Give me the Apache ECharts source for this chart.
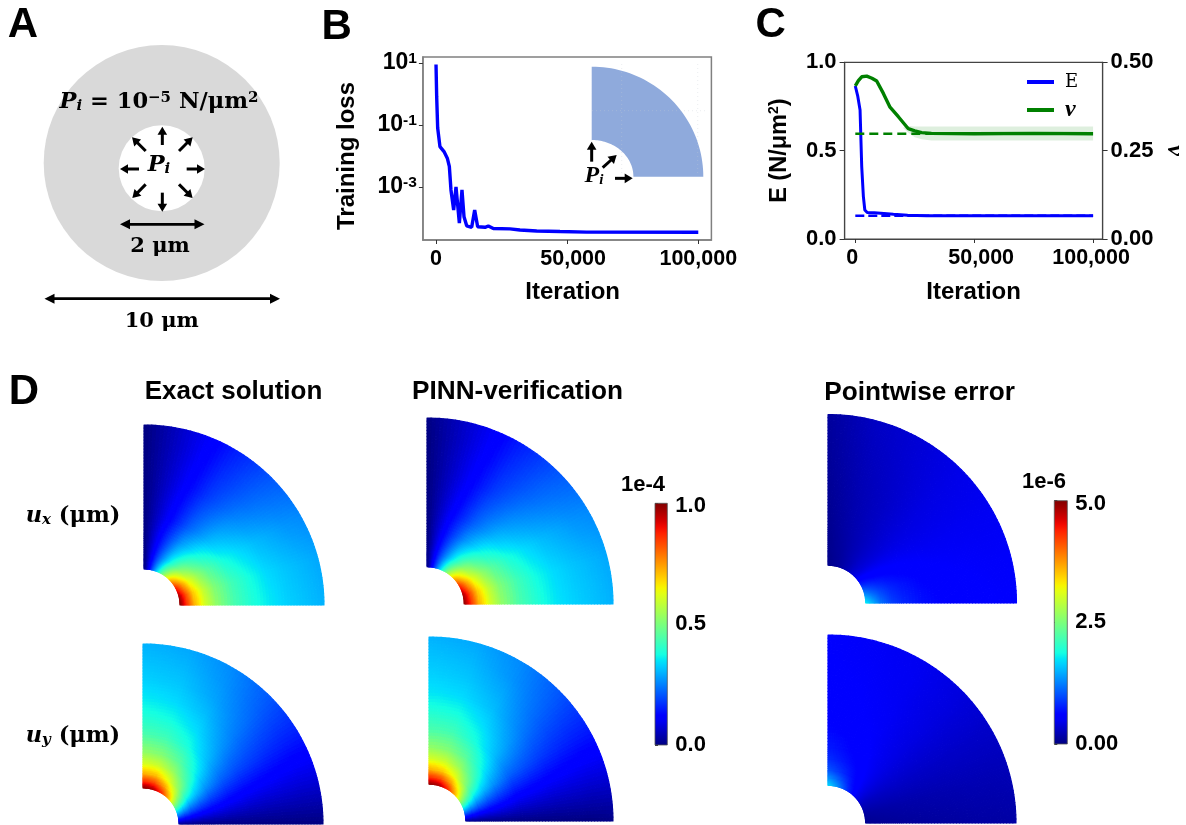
<!DOCTYPE html>
<html><head><meta charset="utf-8">
<style>html,body{margin:0;padding:0;background:#fff}#c{width:1186px;height:825px}</style>
<script src="https://cdn.jsdelivr.net/npm/echarts@6/dist/echarts.min.js"></script>
</head><body><div id="c"></div>
<script>
// ---------- panel B ----------
const lossIter=[0,250,635,1500,3050,4300,5080,5700,6730,7620,8900,9900,10670,11700,13600,14740,15880,18700,19950,21850,28200,32000,38400,47300,57400,100000];
const lossVal=[8.9,0.83,0.08,0.02,0.0138,0.0085,0.0046,8e-4,1.8e-4,1e-3,6.8e-5,8e-4,1.1e-4,5.6e-5,5e-5,1.8e-4,5.2e-5,5e-5,5.5e-5,4.6e-5,4.45e-5,4.1e-5,3.8e-5,3.65e-5,3.5e-5,3.45e-5];
const lossTicks=[1e-3,1e-1,10];
const iterTicks=[0,50000,100000];
// ---------- panel C ----------
const eIter=[0,1000,2000,2700,3400,4000,5000,8000,12000,16000,22000,30000,50000,100000];
const eVal=[0.866,0.81,0.73,0.41,0.24,0.164,0.15,0.148,0.145,0.14,0.134,0.132,0.132,0.132];
const nuIter=[0,1300,2700,4800,7000,9000,11800,14600,18100,22300,25000,27900,32000,50000,75000,100000];
const nuVal=[0.433,0.448,0.459,0.461,0.455,0.447,0.412,0.373,0.346,0.312,0.306,0.301,0.299,0.298,0.299,0.298];
const bandIter=[20000,22300,25000,27900,32000,50000,75000,100000];
const bandLow=[0.315,0.301,0.288,0.282,0.279,0.279,0.279,0.279];
const bandHigh=[0.315,0.320,0.318,0.318,0.318,0.318,0.318,0.318];
const trueE=0.132, trueNu=0.298, trueEnds=[0,100000];
// ---------- panel D : samples on rings (um) x angles (deg) ----------
const rings=[1,1.2,1.4,1.7,2,2.5,3,3.5,4,4.5,5];
const angles=[0,15,30,45,60,75,90];
const exactUx=[[1.00,.86,.73,.61,.53,.44,.39,.355,.33,.315,.30],[.97,.83,.70,.59,.51,.43,.38,.34,.32,.305,.29],[.87,.74,.63,.53,.46,.38,.34,.31,.29,.27,.26],[.71,.61,.51,.43,.37,.31,.28,.25,.23,.22,.21],[.50,.43,.36,.31,.27,.22,.20,.18,.17,.16,.15],[.26,.22,.19,.16,.14,.11,.10,.09,.085,.08,.08],[0,0,0,0,0,0,0,0,0,0,0]];
const pinnUx=[[.99,.86,.73,.61,.53,.44,.39,.35,.33,.315,.30],[.97,.83,.70,.59,.51,.43,.375,.34,.32,.305,.29],[.87,.74,.63,.53,.46,.385,.34,.31,.29,.27,.26],[.71,.61,.52,.43,.37,.31,.275,.25,.23,.22,.21],[.50,.43,.36,.31,.265,.22,.20,.18,.17,.16,.15],[.26,.22,.19,.16,.14,.115,.10,.09,.085,.08,.08],[.005,.005,.005,0,0,0,0,0,0,0,.005]];
const errUx=[[1.85,1.50,1.20,.95,.82,.70,.63,.58,.57,.55,.55],[1.30,1.10,.95,.80,.72,.63,.58,.55,.54,.53,.53],[.80,.72,.65,.60,.56,.52,.50,.50,.50,.50,.50],[.45,.42,.41,.40,.40,.41,.42,.43,.44,.45,.46],[.25,.25,.26,.27,.28,.30,.31,.33,.35,.37,.38],[.12,.13,.14,.16,.18,.20,.22,.24,.26,.28,.30],[.05,.05,.06,.06,.07,.08,.09,.10,.11,.12,.13]];
const exactUy=[[0,0,0,0,0,0,0,0,0,0,0],[.26,.22,.19,.16,.14,.115,.10,.09,.085,.08,.08],[.50,.43,.36,.31,.265,.22,.195,.18,.165,.155,.15],[.71,.61,.52,.43,.37,.31,.275,.25,.235,.22,.21],[.87,.74,.63,.53,.46,.38,.34,.31,.285,.27,.26],[.97,.83,.71,.59,.51,.425,.375,.34,.32,.305,.29],[1.00,.86,.73,.61,.53,.44,.39,.355,.33,.315,.30]];
const pinnUy=[[.005,.005,0,0,0,0,0,0,0,0,.005],[.26,.22,.19,.16,.14,.11,.10,.09,.085,.08,.08],[.50,.43,.36,.31,.27,.22,.20,.18,.165,.155,.15],[.71,.61,.51,.43,.37,.31,.28,.25,.23,.22,.21],[.87,.74,.63,.53,.46,.38,.34,.31,.29,.27,.26],[.97,.83,.70,.59,.51,.43,.38,.34,.32,.305,.29],[.99,.86,.73,.61,.53,.44,.39,.35,.33,.315,.30]];
const errUy=[[.07,.08,.09,.10,.11,.12,.13,.14,.15,.15,.16],[.14,.15,.16,.17,.18,.19,.20,.21,.22,.22,.23],[.28,.28,.29,.30,.31,.31,.31,.31,.31,.31,.31],[.50,.48,.47,.46,.45,.44,.43,.43,.42,.42,.41],[.85,.72,.65,.60,.56,.53,.52,.51,.50,.50,.49],[1.30,1.05,.85,.72,.65,.60,.56,.55,.54,.53,.52],[1.70,1.35,1.05,.85,.75,.65,.60,.57,.56,.55,.55]];
const barTicksU=[0,0.5,1.0], barLabelsU=['0.0','0.5','1.0'];
const barTicksE=[0,2.5,5.0], barLabelsE=['0.00','2.5','5.0'];

// ---------- layout & style ----------
const SANS='"Liberation Sans",Arial,sans-serif', SERIF='"DejaVu Serif",serif', LSERIF='"Liberation Serif",serif';
const fieldBoxes=[
 {t:exactUx,max:1,left:144,bottom:605,R:180},
 {t:pinnUx,max:1,left:427,bottom:604,R:186},
 {t:errUx,max:5,left:828,bottom:603,R:188.5},
 {t:exactUy,max:1,left:143,bottom:824,R:180},
 {t:pinnUy,max:1,left:429,bottom:821,R:184},
 {t:errUy,max:5,left:828,bottom:823,R:188}];
const jetR=[[0,0],[.35,0],[.66,1],[.89,1],[1,.5]], jetG=[[0,0],[.125,0],[.375,1],[.64,1],[.91,0],[1,0]], jetB=[[0,.5],[.11,1],[.34,1],[.65,0],[1,0]];
function seg(s,v){for(let i=1;i<s.length;i++){if(v<=s[i][0]){const a=s[i-1],b=s[i];return a[1]+(b[1]-a[1])*(v-a[0])/(b[0]-a[0]);}}return s[s.length-1][1];}
function jet(v){v=Math.max(0,Math.min(1,v));return 'rgb('+Math.round(255*seg(jetR,v))+','+Math.round(255*seg(jetG,v))+','+Math.round(255*seg(jetB,v))+')';}

function fieldSeries(box,xi,yi){
  const cells=[];
  for(let a=0;a<angles.length-1;a++)for(let r=0;r<rings.length-1;r++)cells.push([a,r,box.t[a][r]]);
  const SA=12,SR=6;
  return {type:'custom',xAxisIndex:xi,yAxisIndex:yi,silent:true,clip:false,data:cells,
    encode:{x:0,y:1},
    renderItem:function(p,api){
      const a=api.value(0),r=api.value(1),kids=[];
      const t=box.t,a0=angles[a],a1=angles[a+1],r0=rings[r],r1=rings[r+1];
      const pt=(u,w)=>{const th=(a0+(a1-a0)*u)*Math.PI/180,R=r0+(r1-r0)*w;return api.coord([R*Math.cos(th),R*Math.sin(th)]);};
      for(let i=0;i<SA;i++)for(let j=0;j<SR;j++){
        const u=(i+.5)/SA,w=(j+.5)/SR;
        const v=(1-u)*((1-w)*t[a][r]+w*t[a][r+1])+u*((1-w)*t[a+1][r]+w*t[a+1][r+1]);
        const c=jet(v/box.max);
        kids.push({type:'polygon',shape:{points:[pt(i/SA,j/SR),pt((i+1)/SA,j/SR),pt((i+1)/SA,(j+1)/SR),pt(i/SA,(j+1)/SR)]},style:{fill:c,stroke:c,lineWidth:1.1,lineJoin:'round'}});
      }
      return {type:'group',children:kids};
    }};
}
function barSeries(xi,yi,max){
  const stops=[];for(let i=0;i<=40;i++)stops.push({offset:1-i/40,color:jet(i/40)});
  return {type:'custom',xAxisIndex:xi,yAxisIndex:yi,silent:true,clip:false,data:[[0,0,max]],
    encode:{x:0,y:[1,2]},
    renderItem:function(p,api){
      const a=api.coord([0,max]),b=api.coord([1,0]);
      return {type:'rect',shape:{x:a[0],y:a[1],width:b[0]-a[0],height:b[1]-a[1]},
        style:{fill:new echarts.graphic.LinearGradient(0,0,0,1,stops),stroke:'#555',lineWidth:.8}};
    }};
}
function arrowEls(x1,y1,x2,y2,head,hw,lw,both){
  const L0=Math.hypot(x2-x1,y2-y1),dx=(x2-x1)/L0,dy=(y2-y1)/L0;
  const els=[{type:'line',shape:{x1:both?x1+dx*head*.7:x1,y1:both?y1+dy*head*.7:y1,x2:x2-dx*head*.7,y2:y2-dy*head*.7},style:{stroke:'#000',lineWidth:lw}}];
  const mk=(xa,ya,xb,yb)=>{const L=Math.hypot(xb-xa,yb-ya),ux=(xb-xa)/L,uy=(yb-ya)/L;
    els.push({type:'polygon',shape:{points:[[xb,yb],[xb-ux*head-uy*hw,yb-uy*head+ux*hw],[xb-ux*head+uy*hw,yb-uy*head-ux*hw]]},style:{fill:'#000'}});};
  mk(x1,y1,x2,y2); if(both)mk(x2,y2,x1,y1);
  return els;
}
function txt(text,x,y,size,opt){
  opt=opt||{};
  return {type:'text',z:20,style:{text,x,y,fill:'#000',align:opt.align||'center',verticalAlign:'middle',
    fontFamily:opt.family||SANS,fontWeight:'bold',fontSize:size,fontStyle:opt.italic?'italic':'normal',rich:opt.rich}};
}
function annulus(cx,cy,rx,ry,irx,iry){
  const pts=[];
  for(let d=0;d<=90;d+=2){const t=d*Math.PI/180;pts.push([cx+rx*Math.cos(t),cy-ry*Math.sin(t)]);}
  for(let d=90;d>=0;d-=2){const t=d*Math.PI/180;pts.push([cx+irx*Math.cos(t),cy-iry*Math.sin(t)]);}
  return pts;
}
const g=[];
g.push(txt('A',23,25,42),txt('B',336.7,27,42),txt('C',770.7,25,42),txt('D',24,392,42));
// panel A
g.push({type:'circle',shape:{cx:161.7,cy:163,r:118},style:{fill:'#d9d9d9'}});
g.push({type:'circle',shape:{cx:161.7,cy:168.2,r:43},style:{fill:'#fff'}});
[[487,435,487,380],[537,453,578,412],[560,507,615,507],[537,553,578,594],[487,578,487,635],[437,553,397,594],[417,507,360,507],[437,453,396,412]]
 .forEach(a=>g.push(...arrowEls(a[0]/3,a[1]/3,a[2]/3,a[3]/3,8,4.8,3)));
g.push(...arrowEls(120,224.3,204.5,224.3,10,5,2.7,true));
g.push(...arrowEls(44.5,298.7,280,298.7,10,5,2.7,true));
const mathRich={p:{fontFamily:SERIF,fontWeight:'bold',fontStyle:'italic',fontSize:22.5},
 i:{fontFamily:SERIF,fontWeight:'bold',fontStyle:'italic',fontSize:15,verticalAlign:'bottom',padding:[8,0,0,0]},
 t:{fontFamily:SERIF,fontWeight:'bold',fontSize:22.5},
 s:{fontFamily:SERIF,fontWeight:'bold',fontSize:15,verticalAlign:'top',padding:[0,0,8,0]}};
g.push(txt('{p|P}{i|i}{t| = 10}{s|−5}{t| N/μm}{s|2}',159,102,22,{rich:mathRich}));
g.push(txt('{p|P}{i|i}',159,165,22,{rich:mathRich}));
g.push(txt('2 μm',160,247,21,{family:SERIF}));
g.push(txt('10 μm',161.7,321.7,21,{family:SERIF}));
// panel B inset
g.push({type:'polygon',z:5,shape:{points:annulus(591.7,176.7,111.6,110,41.7,36.7)},style:{fill:'#8faadc'}});
[[621.7,64,621.7,176],[697.7,64,697.7,176],[592,110.7,705,110.7]].forEach(l=>g.push({type:'line',z:6,shape:{x1:l[0],y1:l[1],x2:l[2],y2:l[3]},style:{stroke:'rgba(200,205,215,.35)',lineWidth:1,lineDash:[1,3]}}));
[[815,485,815,425],[848,503,890,465],[885,535,938,535]].forEach(a=>{
  arrowEls(320+a[0]/3,a[1]/3,320+a[2]/3,a[3]/3,8,4.8,3).forEach(e=>{e.z=7;g.push(e);});});
g.push(txt('{p|P}{i|i}',594,176,20,{rich:{p:{fontFamily:LSERIF,fontWeight:'bold',fontStyle:'italic',fontSize:24},i:{fontFamily:LSERIF,fontWeight:'bold',fontStyle:'italic',fontSize:15,verticalAlign:'bottom',padding:[8,0,0,0]}}}));
// panel D text
g.push(txt('Exact solution',233.5,392,26),txt('PINN-verification',517.5,392,26.2),txt('Pointwise error',919.5,393,26.2));
const uRich={u:{fontFamily:SERIF,fontWeight:'bold',fontStyle:'italic',fontSize:22.5},
 x:{fontFamily:SERIF,fontWeight:'bold',fontStyle:'italic',fontSize:15,verticalAlign:'bottom',padding:[8,0,0,0]},
 t:{fontFamily:SERIF,fontWeight:'bold',fontSize:22.5}};
g.push(txt('{u|u}{x|x}{t| (μm)}',73,516,22,{rich:uRich}));
g.push(txt('{u|u}{x|y}{t| (μm)}',73,736,22,{rich:uRich}));
g.push(txt('1e-4',643,485,22),txt('1e-6',1044,482,22));

const lbl={fontFamily:SANS,fontWeight:'bold',fontSize:21.5,color:'#000'};
const ylbl=Object.assign({},lbl,{fontSize:22});
const nameTS={fontFamily:SANS,fontWeight:'bold',fontSize:24,color:'#000'};
const iterRichB={z:lbl,m:Object.assign({},lbl,{padding:[0,0,0,12]}),h:lbl};
const iterRichC={z:Object.assign({},lbl,{padding:[0,6,0,0]}),m:Object.assign({},lbl,{padding:[0,0,0,14]}),h:Object.assign({},lbl,{padding:[0,4,0,0]})};
const iterFmt=v=>(v===0?'{z|':v===50000?'{m|':'{h|')+v.toLocaleString('en-US')+'}';

const grids=[
 {left:422.9,top:57,width:288.5,height:183,show:true,borderColor:'#808080',borderWidth:1.5,outerBoundsMode:'none'},
 {left:844.6,top:62.3,width:258,height:176.7,show:true,borderColor:'#444',borderWidth:1.2,outerBoundsMode:'none'}];
const xAxes=[
 {gridIndex:0,type:'value',min:-5000,max:105000,splitLine:{show:false},axisLine:{onZero:false,lineStyle:{color:'#808080',width:1.5}},
  axisTick:{length:4,lineStyle:{color:'#333'},customValues:iterTicks},axisLabel:Object.assign({},lbl,{margin:8,customValues:iterTicks,formatter:iterFmt,rich:iterRichB}),
  name:'Iteration',nameLocation:'middle',nameGap:40,nameTextStyle:Object.assign({},nameTS,{padding:[0,0,0,11]})},
 {gridIndex:1,type:'value',min:-4500,max:104000,splitLine:{show:false},axisLine:{onZero:false,lineStyle:{color:'#444',width:1.2}},
  axisTick:{length:4,lineStyle:{color:'#333'},customValues:iterTicks},axisLabel:Object.assign({},lbl,{margin:8,customValues:iterTicks,formatter:iterFmt,rich:iterRichC}),
  name:'Iteration',nameLocation:'middle',nameGap:41,nameTextStyle:nameTS}];
const supRich={sup:{fontFamily:SANS,fontWeight:'bold',fontSize:15.5,verticalAlign:'top',padding:[0,0,8,0]},b:Object.assign({},lbl,{fontSize:23})};
const yAxes=[
 {gridIndex:0,type:'log',min:1.95e-5,max:15.5,splitLine:{show:false},axisLine:{onZero:false,lineStyle:{color:'#808080',width:1.5}},minorTick:{show:false},
  axisTick:{length:4,lineStyle:{color:'#333'},customValues:lossTicks},
  axisLabel:{margin:6,customValues:lossTicks,formatter:v=>'{b|10}{sup|'+Math.round(Math.log10(v))+'}',rich:supRich,fontSize:21,color:'#000'},
  name:'Training loss',nameLocation:'middle',nameGap:64,nameRotate:90,nameTextStyle:Object.assign({},nameTS,{padding:[0,15,0,0]})},
 {gridIndex:1,type:'value',min:0,max:1,interval:.5,splitLine:{show:false},axisLine:{onZero:false,lineStyle:{color:'#444',width:1.2}},
  axisTick:{length:5,lineStyle:{color:'#333'}},axisLabel:Object.assign({},ylbl,{margin:8,formatter:v=>v.toFixed(1)}),
  name:'E (N/μm{sup|2})',nameLocation:'middle',nameGap:53,nameRotate:90,
  nameTextStyle:Object.assign({},nameTS,{fontSize:23.5,rich:{sup:{fontFamily:SANS,fontWeight:'bold',fontSize:14,verticalAlign:'top',padding:[0,0,7,0]}}})},
 {gridIndex:1,type:'value',position:'right',min:0,max:.5,interval:.25,splitLine:{show:false},axisLine:{show:true,onZero:false,lineStyle:{color:'#444',width:1.2}},
  axisTick:{length:5,lineStyle:{color:'#333'}},axisLabel:Object.assign({},ylbl,{margin:8,formatter:v=>v.toFixed(2)}),
  name:'ν',nameLocation:'middle',nameGap:60,nameRotate:-90,nameTextStyle:{fontFamily:LSERIF,fontWeight:'bold',fontStyle:'italic',fontSize:24,color:'#000'}}];
const zip=(a,b)=>a.map((x,i)=>[x,b[i]]);
const series=[
 {type:'line',name:'loss',xAxisIndex:0,yAxisIndex:0,data:zip(lossIter,lossVal),showSymbol:false,lineStyle:{color:'#0000ff',width:3.4},itemStyle:{color:'#0000ff'},z:3},
 {type:'custom',name:'band',xAxisIndex:1,yAxisIndex:2,silent:true,data:[[0,0]],encode:{x:0,y:1},z:1,
  renderItem:function(p,api){
    const pts=zip(bandIter,bandHigh).concat(zip(bandIter,bandLow).reverse()).map(d=>api.coord(d));
    return {type:'polygon',shape:{points:pts},style:{fill:'rgba(0,128,0,.13)'}};
  }},
 {type:'line',name:'Etrue',xAxisIndex:1,yAxisIndex:1,data:trueEnds.map(x=>[x,trueE]),showSymbol:false,lineStyle:{color:'#0000ff',width:2.6,type:[9,4]}},
 {type:'line',name:'E',xAxisIndex:1,yAxisIndex:1,data:zip(eIter,eVal),showSymbol:false,lineStyle:{color:'#0000ff',width:3},itemStyle:{color:'#0000ff'}},
 {type:'line',name:'nutrue',xAxisIndex:1,yAxisIndex:2,data:trueEnds.map(x=>[x,trueNu]),showSymbol:false,lineStyle:{color:'#008000',width:2.6,type:[9,5]}},
 {type:'line',name:'ν',xAxisIndex:1,yAxisIndex:2,data:zip(nuIter,nuVal),showSymbol:false,lineStyle:{color:'#008000',width:3.4},itemStyle:{color:'#008000'}}
];
fieldBoxes.forEach(b=>{
  const gi=grids.length,xi=xAxes.length,yi=yAxes.length;
  grids.push({left:b.left,top:b.bottom-b.R,width:b.R,height:b.R,outerBoundsMode:'none'});
  xAxes.push({gridIndex:gi,type:'value',min:0,max:5,show:false});
  yAxes.push({gridIndex:gi,type:'value',min:0,max:5,show:false});
  series.push(fieldSeries(b,xi,yi));
});
[[655,503.3,12.3,241.7,1,barTicksU,barLabelsU],[1054.3,500.7,13,243.3,5,barTicksE,barLabelsE]].forEach(c=>{
  const gi=grids.length,xi=xAxes.length,yi=yAxes.length;
  grids.push({left:c[0],top:c[1],width:c[2],height:c[3],outerBoundsMode:'none'});
  xAxes.push({gridIndex:gi,type:'value',min:0,max:1,show:false});
  yAxes.push({gridIndex:gi,type:'value',position:'right',min:0,max:c[4],splitLine:{show:false},axisLine:{show:false},
    axisTick:{show:true,length:3,lineStyle:{color:'#333'},customValues:c[5]},
    axisLabel:Object.assign({},ylbl,{margin:8,customValues:c[5],
      rich:{top:Object.assign({},ylbl,{padding:[6,0,0,0]}),n:ylbl},
      formatter:v=>(v===c[4]?'{top|':'{n|')+c[6][c[5].indexOf(v)]+'}'})});
  series.push(barSeries(xi,yi,c[4]));
});

const chart=echarts.init(document.getElementById('c'),null,{renderer:'canvas'});
chart.setOption({animation:false,backgroundColor:'#fff',grid:grids,xAxis:xAxes,yAxis:yAxes,series:series,graphic:g,
  legend:{data:['E','ν'],left:1022,top:68,orient:'vertical',itemWidth:27,itemHeight:4,itemGap:7,icon:'rect',selectedMode:false,
    itemStyle:{borderWidth:0},
    textStyle:{color:'#000',padding:[0,0,0,6],rich:{e:{fontFamily:SERIF,fontSize:18,lineHeight:22},n:{fontFamily:LSERIF,fontWeight:'bold',fontStyle:'italic',fontSize:24,lineHeight:22}}},
    formatter:n=>n==='E'?'{e|E}':'{n|ν}'}
});
</script></body></html>
